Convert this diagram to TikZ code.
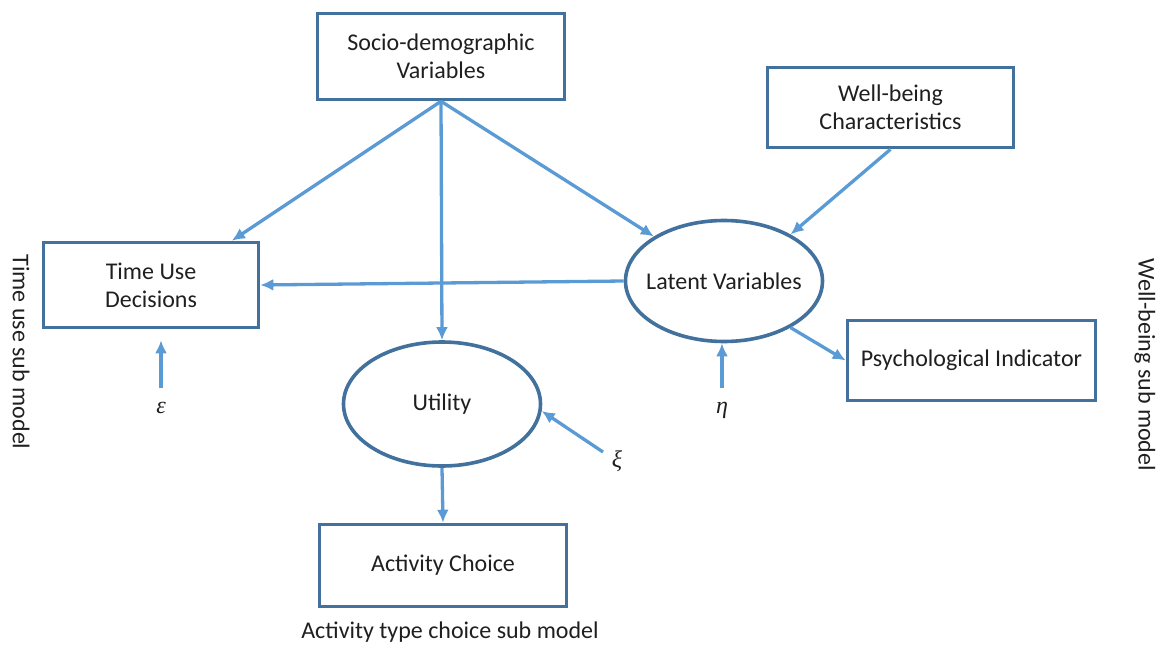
\documentclass[tikz,border=0pt]{standalone}
\usepackage{fontspec}
\setmainfont{Carlito}
\newfontfamily\greekfont{Liberation Serif}
\usetikzlibrary{arrows.meta,shapes.geometric,calc}
\definecolor{boxblue}{HTML}{41719C}
\definecolor{arrowblue}{HTML}{5B9BD5}
\definecolor{ink}{HTML}{1F1F1F}
\begin{document}
\begin{tikzpicture}[x=1pt,y=-1pt,
  font=\fontsize{24}{28}\selectfont, text=ink,
  box/.style={draw=boxblue, line width=3.6pt, inner sep=0pt, align=center},
  oval/.style={ellipse, draw=boxblue, line width=3.6pt, inner sep=0pt},
  arr/.style={draw=arrowblue, line width=3.3pt, -{Latex[length=13pt,width=12pt]}},
  greek/.style={font=\fontsize{24}{28}\greekfont\itshape}]
\path[use as bounding box] (0,0) rectangle (1168,645);

% boxes
\node[box, minimum width=247pt, minimum height=86pt] (sdv) at (441,56.5) {Socio-demographic\\Variables};
\node[box, minimum width=246pt, minimum height=80pt] (wbc) at (890.5,107.5) {Well-being\\Characteristics};
\node[box, minimum width=215pt, minimum height=85pt] (tud) at (151,285) {Time Use\\Decisions};
\node[box, minimum width=248pt, minimum height=80pt] (pi) at (971.5,360.5) {Psychological Indicator};
\node[box, minimum width=247pt, minimum height=82pt] (ac) at (443,565.5) {Activity Choice};

% latent constructs
\node[oval, minimum width=197pt, minimum height=121pt, label=center:{Latent Variables}] (lv) at (724,281) {};
\node[oval, minimum width=197pt, minimum height=124pt, label=center:{Utility}] (ut) at (442,404) {};

% error terms
\node[greek] (eps) at (161,408) {ε};
\node[greek] (eta) at (722,410) {η};
\node[greek] (xi) at (617,461) {ξ};
\coordinate (epsTail) at (161,388);
\coordinate (etaTail) at (722,388);
\coordinate (xiTail) at (603,452);

% sub-model captions
\node[rotate=-90] (tlab) at (21,352) {Time use sub model};
\node[rotate=-90] (wlab) at (1145,365) {Well-being sub model};
\node (alab) at (450,632) {Activity type choice sub model};

% connectors
\draw[arr] (sdv.south) -- ($(tud.north west)!0.87!(tud.north east)$);
\draw[arr] (sdv.south) -- (ut.north);
\draw[arr] (sdv.south) -- (lv);
\draw[arr] (wbc.south) -- (lv.35);
\draw[arr] (lv.west) -- (tud.east);
\draw[arr] (lv.-35) -- (pi.west);
\draw[arr] (ut.south) -- (ac.north);
\draw[arr] (epsTail) -- ($(tud.south -| epsTail)+(0,11)$);
\draw[arr] (etaTail) -- (etaTail |- lv.south);
\draw[arr] (xiTail) -- (ut.-4);
\end{tikzpicture}
\end{document}
